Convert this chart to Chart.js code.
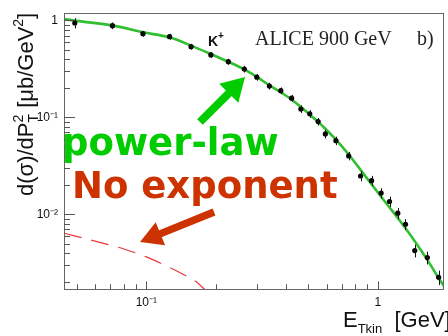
<!DOCTYPE html>
<html><head><meta charset="utf-8">
<script src="https://cdn.jsdelivr.net/npm/chart.js@4.4.1/dist/chart.umd.min.js"></script>
<style>html,body{margin:0;padding:0;background:#fff;overflow:hidden}canvas{display:block}</style>
</head><body>
<canvas id="c" width="448" height="336"></canvas>
<script>
// ALICE 900 GeV, K+ spectrum
const dataE   = [0.0491,0.0714,0.0967,0.126,0.156,0.190,0.226,0.265,0.300,0.340,0.381,0.424,0.465,0.508,0.552,0.593,0.659,0.748,0.842,0.939,1.033,1.123,1.219,1.316,1.443,1.636,1.83];
const dataY   = [0.942,0.884,0.731,0.681,0.537,0.441,0.376,0.316,0.260,0.211,0.189,0.158,0.122,0.109,0.0906,0.0676,0.0576,0.0401,0.0249,0.0223,0.0166,0.0136,0.0103,0.00792,0.00424,0.00359,0.00225];
const dataErr = [0.12,0.08,0.07,0.07,0.07,0.07,0.07,0.08,0.08,0.08,0.08,0.08,0.09,0.09,0.09,0.10,0.10,0.10,0.12,0.12,0.12,0.12,0.13,0.13,0.15,0.15,0.17];
// power-law fit curve
const fitE = [0.0441,0.05,0.0714,0.0967,0.126,0.156,0.19,0.226,0.265,0.30,0.34,0.381,0.424,0.465,0.508,0.552,0.593,0.659,0.748,0.842,0.939,1.033,1.123,1.219,1.316,1.443,1.636,1.83,1.93];
const fitY = [1.036,0.99,0.89,0.755,0.67,0.55,0.45,0.375,0.313,0.262,0.215,0.182,0.153,0.128,0.107,0.09,0.0765,0.059,0.0415,0.0288,0.0205,0.0152,0.0118,0.0092,0.0072,0.0053,0.0034,0.0022,0.00182];
// "No exponent" curve
const noExpE = [0.0441,0.06,0.08,0.10,0.12,0.14,0.164,0.18];
const noExpY = [0.0064,0.0053,0.0044,0.00365,0.0030,0.0025,0.00203,0.00165];
// ticks
const xTickValues = [0.05,0.06,0.07,0.08,0.09,0.1,0.2,0.3,0.4,0.5,0.6,0.7,0.8,0.9,1];
const xMajorValues = [0.1,1];
const xMajorLabels = ['10\u207B\u00B9','1'];
const yTickValues = [0.002,0.003,0.004,0.005,0.006,0.007,0.008,0.009,0.01,0.02,0.03,0.04,0.05,0.06,0.07,0.08,0.09,0.1,0.2,0.3,0.4,0.5,0.6,0.7,0.8,0.9,1];
const yMajorValues = [0.01,0.1,1];
const yMajorLabels = ['10\u207B\u00B2','10\u207B\u00B9','1'];

function isMajor(v){const l=Math.log10(v);return Math.abs(l-Math.round(l))<1e-6;}
function labelFor(v, vals, labs){for(let i=0;i<vals.length;i++){if(Math.abs(vals[i]-v)/vals[i]<1e-6)return labs[i];}return '';}

function arrow(ctx,x1,y1,x2,y2,sw,hl,hw,color){
  const dx=x2-x1, dy=y2-y1, L=Math.hypot(dx,dy), ux=dx/L, uy=dy/L, nx=-uy, ny=ux;
  const bx=x2-ux*hl, by=y2-uy*hl;
  ctx.save();
  ctx.strokeStyle=color; ctx.fillStyle=color; ctx.lineWidth=sw; ctx.lineCap='butt';
  ctx.beginPath(); ctx.moveTo(x1,y1); ctx.lineTo(bx+ux*1,by+uy*1); ctx.stroke();
  ctx.beginPath(); ctx.moveTo(x2,y2); ctx.lineTo(bx+nx*hw/2,by+ny*hw/2); ctx.lineTo(bx-nx*hw/2,by-ny*hw/2); ctx.closePath(); ctx.fill();
  ctx.restore();
}
function segText(ctx, segs){ // draws along x from 0, baseline 0
  let x=0;
  for(const s of segs){
    ctx.font=s.f;
    if(s.stack){
      let w=0;
      for(const p of s.stack){ctx.font=p.f;ctx.fillText(p.t,x,p.dy);w=Math.max(w,ctx.measureText(p.t).width);}
      x+=w;
    } else {
      ctx.fillText(s.t,x,s.dy||0); x+=ctx.measureText(s.t).width;
    }
  }
}

const deco = {
  id:'deco',
  afterDatasetsDraw(chart){
    const ctx=chart.ctx, xs=chart.scales.x, ys=chart.scales.y, a=chart.chartArea;
    ctx.save();
    ctx.beginPath(); ctx.rect(a.left,a.top,a.right-a.left,a.bottom-a.top); ctx.clip();
    ctx.strokeStyle='#111'; ctx.lineWidth=1;
    for(let i=0;i<dataE.length;i++){
      const px=Math.round(xs.getPixelForValue(dataE[i]))+0.5;
      const y1=ys.getPixelForValue(dataY[i]*(1+dataErr[i]));
      const y2=ys.getPixelForValue(dataY[i]*(1-dataErr[i]));
      ctx.beginPath(); ctx.moveTo(px,y1); ctx.lineTo(px,y2); ctx.stroke();
    }
    ctx.restore();
  },
  afterDraw(chart){
    const ctx=chart.ctx, xs=chart.scales.x, ys=chart.scales.y, a=chart.chartArea;
    ctx.save();
    // frame
    ctx.strokeStyle='#666'; ctx.lineWidth=1;
    ctx.strokeRect(Math.round(a.left)+0.5,Math.round(a.top)+0.5,Math.round(a.right-a.left)-1,Math.round(a.bottom-a.top));
    // inward ticks
    ctx.strokeStyle='#555';
    for(const t of xs.ticks){
      const px=Math.round(xs.getPixelForValue(t.value))+0.5, len=isMajor(t.value)?8:5;
      ctx.beginPath(); ctx.moveTo(px,a.bottom); ctx.lineTo(px,a.bottom-len); ctx.stroke();
    }
    for(const t of ys.ticks){
      const py=Math.round(ys.getPixelForValue(t.value))+0.5, len=isMajor(t.value)?11:6;
      ctx.beginPath(); ctx.moveTo(a.left,py); ctx.lineTo(a.left+len,py); ctx.stroke();
    }
    // y title
    ctx.fillStyle='#111'; ctx.textAlign='left'; ctx.textBaseline='alphabetic';
    ctx.save(); ctx.translate(33,196); ctx.rotate(-Math.PI/2);
    const F='22px "Liberation Sans", Arial, sans-serif', S='14px "Liberation Sans", Arial, sans-serif';
    segText(ctx,[{f:F,t:'d(\u03C3)/dP'},{f:S,stack:[{f:S,t:'T',dy:5},{f:S,t:'2',dy:-10}]},{f:F,t:' [\u03BCb/GeV'},{f:S,t:'2',dy:-10},{f:F,t:']'}]);
    ctx.restore();
    // x title
    ctx.save(); ctx.translate(343,327);
    segText(ctx,[{f:'22px "Liberation Sans", Arial, sans-serif',t:'E'},{f:'13px "Liberation Sans", Arial, sans-serif',t:'Tkin',dy:6},{f:'22px "Liberation Sans", Arial, sans-serif',t:'  [GeV]'}]);
    ctx.restore();
    // labels top
    ctx.fillStyle='#111';
    ctx.font='bold 14px "Liberation Sans", Arial, sans-serif'; ctx.fillText('K',208,46);
    ctx.font='bold 10px "Liberation Sans", Arial, sans-serif'; ctx.fillText('+',218,39);
    ctx.fillStyle='#222';
    ctx.font='20px "Liberation Serif", "Times New Roman", serif'; ctx.fillText('ALICE 900 GeV',255,45);
    ctx.fillText('b)',417,45);
    // annotations
    ctx.font='bold 37px "DejaVu Sans", Verdana, sans-serif';
    ctx.fillStyle='#00cc00'; ctx.fillText('power-law',62,155);
    ctx.fillStyle='#cc3300'; ctx.fillText('No exponent',72,198);
    arrow(ctx,200,122,245,77,8,23,27,'#00cc00');
    arrow(ctx,214,212,140,242,7.5,22,25,'#cc3300');
    ctx.restore();
  }
};

new Chart(document.getElementById('c'),{
  type:'scatter',
  data:{datasets:[
    {label:'data',data:dataE.map((x,i)=>({x,y:dataY[i]})),pointRadius:2.6,pointBackgroundColor:'#000',pointBorderWidth:0,showLine:false},
    {label:'power-law',data:fitE.map((x,i)=>({x,y:fitY[i]})),showLine:true,pointRadius:0,borderColor:'#2fbf2f',borderWidth:2.6,cubicInterpolationMode:'monotone'},
    {label:'No exponent',data:noExpE.map((x,i)=>({x,y:noExpY[i]})),showLine:true,pointRadius:0,borderColor:'#e8383a',borderWidth:1.2,borderDash:[18,10],cubicInterpolationMode:'monotone'}
  ]},
  options:{
    responsive:false,animation:false,devicePixelRatio:1,
    layout:{padding:{left:0,right:2.5,top:13.3,bottom:0}},
    plugins:{legend:{display:false},tooltip:{enabled:false}},
    scales:{
      x:{type:'logarithmic',min:0.0441,max:1.93,bounds:'data',
         grid:{display:false,drawTicks:false},border:{display:false},
         afterBuildTicks:s=>{s.ticks=xTickValues.map(v=>({value:v}));},
         afterFit:s=>{s.height=46.7;},
         ticks:{autoSkip:false,maxRotation:0,padding:6,color:'#111',font:{size:12,family:'"Liberation Sans", Arial, sans-serif'},
           callback:v=>labelFor(v,xMajorValues,xMajorLabels)}},
      y:{type:'logarithmic',min:0.00169,max:1.186,bounds:'data',
         grid:{display:false,drawTicks:false},border:{display:false},
         afterBuildTicks:s=>{s.ticks=yTickValues.map(v=>({value:v}));},
         afterFit:s=>{s.width=64;},
         ticks:{autoSkip:false,padding:6,color:'#111',font:{size:12,family:'"Liberation Sans", Arial, sans-serif'},
           callback:v=>labelFor(v,yMajorValues,yMajorLabels)}}
    }
  },
  plugins:[deco]
});
</script>
</body></html>
